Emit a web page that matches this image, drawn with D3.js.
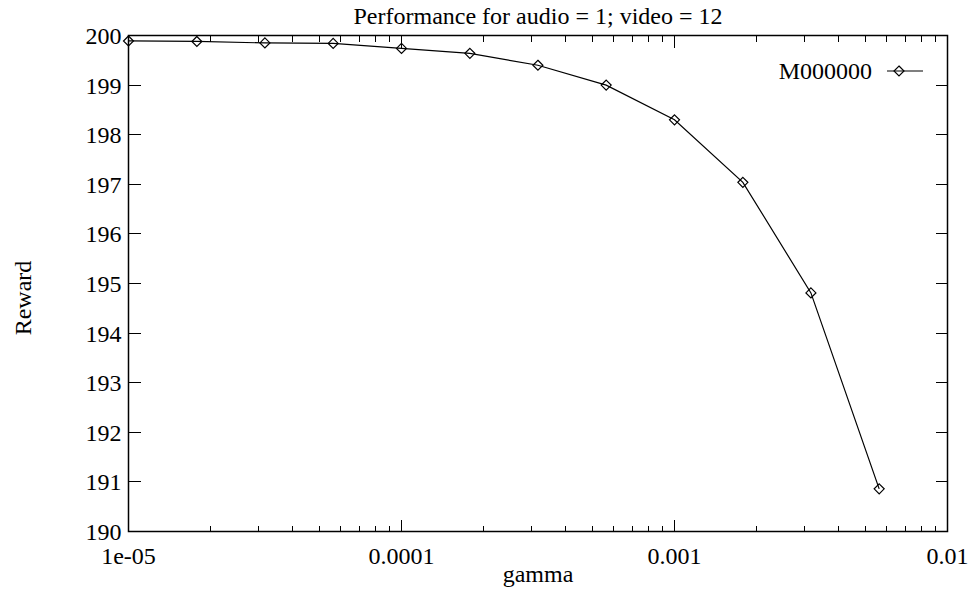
<!DOCTYPE html>
<html lang="en">

<head>
    <meta charset="UTF-8">
    <title>Performance for audio = 1; video = 12</title>
    <script src="https://d3js.org/d3.v7.min.js"></script>
    <style>
        body {
            margin: 0;
            background: #ffffff;
        }

        text {
            font-family: "Liberation Serif", "DejaVu Serif", serif;
            fill: #000000;
        }
    </style>
</head>

<body>
    <svg id="chart" width="968" height="592"></svg>

    <script>
        // Data
        var gammaValues = [0.00001, 0.0000178, 0.0000316, 0.0000562, 0.0001, 0.000178,
            0.000316, 0.000562, 0.001, 0.00178, 0.00316, 0.00562];
        var rewardValues = [199.89, 199.88, 199.85, 199.84, 199.74, 199.64,
            199.40, 199.00, 198.30, 197.04, 194.81, 190.86];
        var xTickValues = [0.00001, 0.0001, 0.001, 0.01];
        var xTickLabels = ["1e-05", "0.0001", "0.001", "0.01"];
        var yTickValues = [190, 191, 192, 193, 194, 195, 196, 197, 198, 199, 200];
        var seriesName = "M000000";

        var svg = d3.select("#chart");

        // plot box
        var plotLeft = 128.5, plotRight = 947.5, plotTop = 35.5, plotBottom = 531.5;

        var x = d3.scaleLog().domain([0.00001, 0.01]).range([plotLeft, plotRight]);
        var y = d3.scaleLinear().domain([190, 200]).range([plotBottom, plotTop]);

        var fontSize = 24;

        // minor ticks on the log axis
        var minorTicks = x.ticks().filter(function (d) {
            return xTickValues.indexOf(d) < 0;
        });

        var ticks = svg.append("g")
            .attr("stroke", "#000")
            .attr("stroke-width", 1)
            .attr("shape-rendering", "crispEdges");

        // x major ticks, bottom and top
        xTickValues.forEach(function (d) {
            ticks.append("line").attr("x1", x(d)).attr("x2", x(d))
                .attr("y1", plotBottom).attr("y2", plotBottom - 12);
            ticks.append("line").attr("x1", x(d)).attr("x2", x(d))
                .attr("y1", plotTop).attr("y2", plotTop + 12);
        });
        minorTicks.forEach(function (d) {
            ticks.append("line").attr("x1", x(d)).attr("x2", x(d))
                .attr("y1", plotBottom).attr("y2", plotBottom - 6);
            ticks.append("line").attr("x1", x(d)).attr("x2", x(d))
                .attr("y1", plotTop).attr("y2", plotTop + 6);
        });
        // y ticks, left and right
        yTickValues.forEach(function (d) {
            ticks.append("line").attr("x1", plotLeft).attr("x2", plotLeft + 12)
                .attr("y1", y(d)).attr("y2", y(d));
            ticks.append("line").attr("x1", plotRight).attr("x2", plotRight - 12)
                .attr("y1", y(d)).attr("y2", y(d));
        });

        // frame
        svg.append("rect")
            .attr("x", plotLeft).attr("y", plotTop)
            .attr("width", plotRight - plotLeft).attr("height", plotBottom - plotTop)
            .attr("fill", "none")
            .attr("stroke", "#000")
            .attr("stroke-width", 1.5);

        // tick labels
        svg.append("g").selectAll("text")
            .data(yTickValues)
            .join("text")
            .attr("x", plotLeft - 7)
            .attr("y", function (d) { return y(d); })
            .attr("dy", "0.35em")
            .attr("text-anchor", "end")
            .attr("font-size", fontSize)
            .text(function (d) { return d; });

        svg.append("g").selectAll("text")
            .data(xTickValues)
            .join("text")
            .attr("x", function (d) { return x(d); })
            .attr("y", plotBottom + 32)
            .attr("text-anchor", "middle")
            .attr("font-size", fontSize)
            .text(function (d, i) { return xTickLabels[i]; });

        // titles
        svg.append("text")
            .attr("x", (plotLeft + plotRight) / 2)
            .attr("y", 24)
            .attr("text-anchor", "middle")
            .attr("font-size", fontSize)
            .text("Performance for audio = 1; video = 12");

        svg.append("text")
            .attr("x", (plotLeft + plotRight) / 2)
            .attr("y", 582)
            .attr("text-anchor", "middle")
            .attr("font-size", fontSize)
            .text("gamma");

        svg.append("text")
            .attr("transform", "translate(31,298) rotate(-90)")
            .attr("text-anchor", "middle")
            .attr("font-size", fontSize)
            .text("Reward");

        // series
        var line = d3.line()
            .x(function (d, i) { return x(gammaValues[i]); })
            .y(function (d) { return y(d); });

        svg.append("path")
            .datum(rewardValues)
            .attr("d", line)
            .attr("fill", "none")
            .attr("stroke", "#000")
            .attr("stroke-width", 1.2);

        var diamond = "M0,-5L5,0L0,5L-5,0Z";

        svg.append("g").selectAll("path")
            .data(rewardValues)
            .join("path")
            .attr("transform", function (d, i) {
                return "translate(" + x(gammaValues[i]) + "," + y(d) + ")";
            })
            .attr("d", diamond)
            .attr("fill", "none")
            .attr("stroke", "#000")
            .attr("stroke-width", 1.2);

        // legend
        var legend = svg.append("g");
        legend.append("text")
            .attr("x", 872)
            .attr("y", 71)
            .attr("dy", "0.35em")
            .attr("text-anchor", "end")
            .attr("font-size", fontSize)
            .text(seriesName);
        legend.append("line")
            .attr("x1", 887).attr("x2", 923)
            .attr("y1", 71).attr("y2", 71)
            .attr("stroke", "#000")
            .attr("stroke-width", 1.2);
        legend.append("path")
            .attr("transform", "translate(899,71)")
            .attr("d", diamond)
            .attr("fill", "none")
            .attr("stroke", "#000")
            .attr("stroke-width", 1.2);
    </script>
</body>

</html>
